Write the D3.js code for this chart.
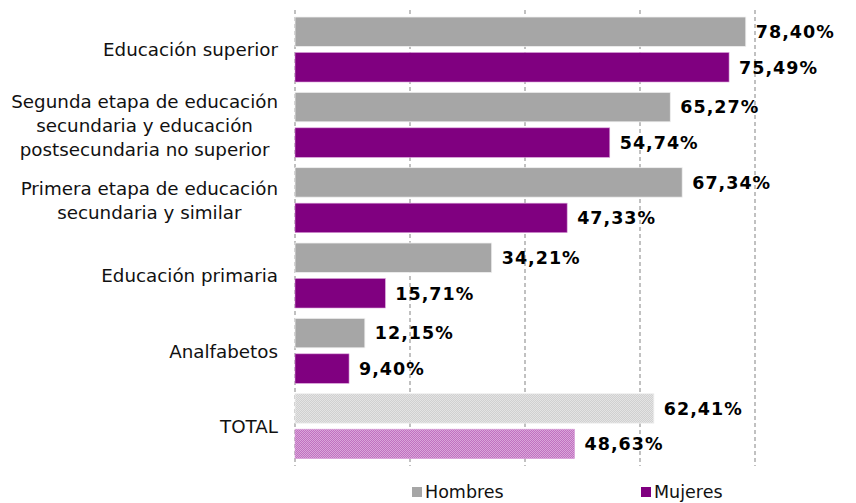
<!DOCTYPE html>
<html><head><meta charset="utf-8">
<script src="https://cdn.jsdelivr.net/npm/d3@7"></script>
<style>body{margin:0;background:#fff}svg{display:block}text{font-family:"DejaVu Sans",Verdana,sans-serif}</style>
</head><body><svg id="c" width="856" height="503"></svg>
<script>
const categories = [
  ["Educación superior"],
  ["Segunda etapa de educación","secundaria y educación","postsecundaria no superior"],
  ["Primera etapa de educación","secundaria y similar"],
  ["Educación primaria"],
  ["Analfabetos"],
  ["TOTAL"]
];
const hombres = [78.40, 65.27, 67.34, 34.21, 12.15, 62.41];
const mujeres = [75.49, 54.74, 47.33, 15.71, 9.40, 48.63];
const seriesNames = ["Hombres","Mujeres"];
const xTicks = [0,20,40,60,80];

const svg = d3.select("#c");
const defs = svg.append("defs");
function checker(id,a,b){
  const p = defs.append("pattern").attr("id",id).attr("width",2).attr("height",2).attr("patternUnits","userSpaceOnUse");
  p.append("rect").attr("width",2).attr("height",2).attr("fill",a);
  p.append("rect").attr("width",1).attr("height",1).attr("fill",b);
  p.append("rect").attr("x",1).attr("y",1).attr("width",1).attr("height",1).attr("fill",b);
}
checker("pg","#d0d0d0","#e4e4e4");
checker("pm","#c070c0","#d9a6d9");

const x = d3.scaleLinear().domain([0,80]).range([295,755]);
const y = d3.scaleBand().domain(d3.range(categories.length)).range([12,464]).paddingInner(0).paddingOuter(0);
const bh = 29.5, off1 = 5, off2 = 40.5;

// gridlines
svg.append("g").selectAll("line").data(xTicks).join("line")
  .attr("x1",d=>x(d)).attr("x2",d=>x(d)).attr("y1",10).attr("y2",466)
  .attr("stroke","#a0a0a0").attr("stroke-width",1.3).attr("stroke-dasharray","4,3");

const isTotal = i => i===categories.length-1;
const g = svg.append("g");
g.selectAll("rect.h").data(hombres).join("rect").attr("class","h")
  .attr("x",x(0)).attr("y",(d,i)=>y(i)+off1).attr("width",d=>x(d)-x(0)).attr("height",bh)
  .attr("fill",(d,i)=>isTotal(i)?"url(#pg)":"#a6a6a6").attr("stroke","#f0f0f0").attr("stroke-width",0.8);
g.selectAll("rect.m").data(mujeres).join("rect").attr("class","m")
  .attr("x",x(0)).attr("y",(d,i)=>y(i)+off2).attr("width",d=>x(d)-x(0)).attr("height",bh)
  .attr("fill",(d,i)=>isTotal(i)?"url(#pm)":"#800080").attr("stroke","#d9a0d9").attr("stroke-width",0.6);

const fmt = v => v.toFixed(2).replace(".",",")+"%";
function valLabels(data,off){
  g.selectAll(null).data(data).join("text")
    .attr("x",d=>x(d)+10).attr("y",(d,i)=>y(i)+off+bh/2).attr("dy","0.36em")
    .attr("font-size",17.5).attr("font-weight","bold").attr("letter-spacing",1).attr("fill","#000").text(fmt);
}
valLabels(hombres,off1);
valLabels(mujeres,off2);

// category labels: block right-aligned, lines centered within block
const lab = svg.append("g");
categories.forEach((lines,i)=>{
  const t = lab.append("text").attr("font-size",18.3).attr("fill","#111");
  const lh = 24;
  const cy = y(i)+y.bandwidth()/2;
  lines.forEach((l,j)=>{
    t.append("tspan").attr("y",cy+(j-(lines.length-1)/2)*lh).attr("dy","0.36em").text(l);
  });
  const spans = t.selectAll("tspan").nodes();
  const ws = spans.map(s=>s.getComputedTextLength());
  const mw = d3.max(ws);
  const right = 278;
  spans.forEach((s,j)=>{ d3.select(s).attr("x", right - mw + (mw-ws[j])/2); });
});

// legend
const leg = svg.append("g");
const legX = [412,641], colors = ["#a6a6a6","#800080"];
seriesNames.forEach((n,i)=>{
  leg.append("rect").attr("x",legX[i]).attr("y",487).attr("width",10).attr("height",10).attr("fill",colors[i]);
  leg.append("text").attr("x",legX[i]+13).attr("y",497.5).attr("font-size",17.5).attr("fill","#111").text(n);
});
</script></body></html>
